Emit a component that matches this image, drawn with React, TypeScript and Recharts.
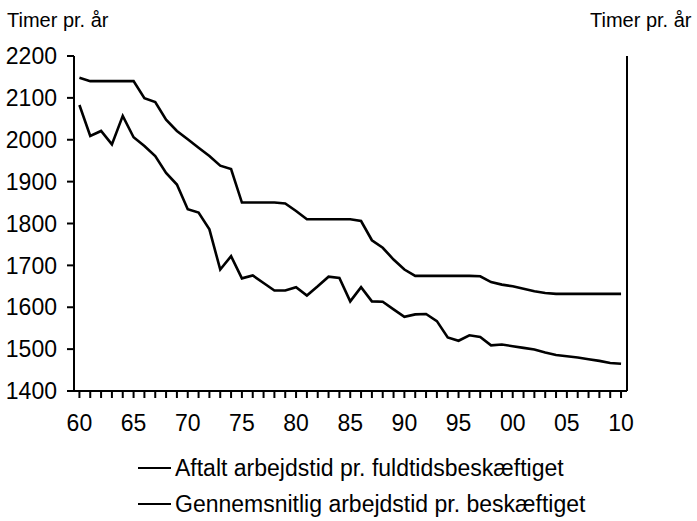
import React from 'react';
import { LineChart, Line, XAxis, YAxis } from 'recharts';

const years = [
  1960, 1961, 1962, 1963, 1964, 1965, 1966, 1967, 1968, 1969,
  1970, 1971, 1972, 1973, 1974, 1975, 1976, 1977, 1978, 1979,
  1980, 1981, 1982, 1983, 1984, 1985, 1986, 1987, 1988, 1989,
  1990, 1991, 1992, 1993, 1994, 1995, 1996, 1997, 1998, 1999,
  2000, 2001, 2002, 2003, 2004, 2005, 2006, 2007, 2008, 2009, 2010,
];

const aftalt = [
  2148, 2140, 2140, 2140, 2140, 2140, 2099, 2090, 2048, 2021,
  2001, 1981, 1961, 1938, 1930, 1850, 1850, 1850, 1850, 1848,
  1830, 1810, 1810, 1810, 1810, 1810, 1806, 1760, 1742, 1714,
  1690, 1675, 1675, 1675, 1675, 1675, 1675, 1674, 1660, 1654,
  1650, 1644, 1638, 1634, 1632, 1632, 1632, 1632, 1632, 1632, 1632,
];

const gennemsnit = [
  2083, 2009, 2021, 1989, 2057, 2006, 1985, 1961, 1921, 1893,
  1834, 1826, 1786, 1690, 1722, 1669, 1676, 1658, 1640, 1640,
  1648, 1628, 1650, 1673, 1670, 1614, 1648, 1614, 1613, 1595,
  1577, 1583, 1584, 1567, 1528, 1520, 1533, 1529, 1509, 1511,
  1507, 1503, 1499, 1492, 1486, 1483, 1480, 1476, 1472, 1467, 1465,
];

const yTicks = [1400, 1500, 1600, 1700, 1800, 1900, 2000, 2100, 2200];

const axisTitle = 'Timer pr. år';
const legendLabels = [
  'Aftalt arbejdstid pr. fuldtidsbeskæftiget',
  'Gennemsnitlig arbejdstid pr. beskæftiget',
];

const data = years.map((year, i) => ({
  year,
  aftalt: aftalt[i],
  gennemsnit: gennemsnit[i],
}));

const FONT = '"Liberation Sans", Arial, Helvetica, sans-serif';

const XTick = (props: any) => {
  const { x, y, payload } = props;
  const v = payload.value as number;
  if (v % 5 !== 0) return <g />;
  return (
    <text x={x} y={y} dy={31} textAnchor="middle" fontSize={23} fontFamily={FONT} fill="#000">
      {String(v % 100).padStart(2, '0')}
    </text>
  );
};

export default function App() {
  return (
    <div style={{ position: 'absolute', left: 0, top: 0, width: 697, height: 521, background: '#fff', fontFamily: FONT }}>
      <LineChart
        width={697}
        height={521}
        data={data}
        margin={{ top: 56, right: 0, bottom: 80, left: 0 }}
      >
        <XAxis
          dataKey="year"
          type="number"
          domain={[1959.5, 2010.55]}
          ticks={years}
          interval={0}
          tick={<XTick />}
          tickSize={7}
          tickMargin={2}
          height={50}
          axisLine={{ stroke: '#000', strokeWidth: 2 }}
          tickLine={{ stroke: '#000', strokeWidth: 2 }}
        />
        <YAxis
          yAxisId="left"
          orientation="left"
          width={74}
          domain={[1400, 2200]}
          ticks={yTicks}
          interval={0}
          tickSize={7}
          tickMargin={10}
          tick={{ fontSize: 23, fill: '#000', fontFamily: FONT }}
          axisLine={{ stroke: '#000', strokeWidth: 2 }}
          tickLine={{ stroke: '#000', strokeWidth: 2 }}
        />
        <YAxis
          yAxisId="right"
          orientation="right"
          width={70}
          domain={[1400, 2200]}
          ticks={yTicks}
          interval={0}
          tickSize={6}
          tickMargin={7}
          tick={{ fontSize: 23, fill: '#000', fontFamily: FONT }}
          axisLine={{ stroke: '#000', strokeWidth: 2 }}
          tickLine={{ stroke: '#000', strokeWidth: 2 }}
        />
        <Line
          yAxisId="left"
          type="linear"
          dataKey="aftalt"
          stroke="#000"
          strokeWidth={2.6}
          dot={false}
          isAnimationActive={false}
        />
        <Line
          yAxisId="left"
          type="linear"
          dataKey="gennemsnit"
          stroke="#000"
          strokeWidth={2.6}
          dot={false}
          isAnimationActive={false}
        />
      </LineChart>

      <div style={{ position: 'absolute', left: 7, top: 8, fontSize: 20, lineHeight: '24px', color: '#000', whiteSpace: 'nowrap' }}>
        {axisTitle}
      </div>
      <div style={{ position: 'absolute', left: 590, top: 8, fontSize: 20, lineHeight: '24px', color: '#000', whiteSpace: 'nowrap' }}>
        {axisTitle}
      </div>

      {legendLabels.map((label, i) => (
        <div
          key={label}
          style={{
            position: 'absolute',
            left: 138,
            top: 453 + i * 36,
            height: 30,
            display: 'flex',
            alignItems: 'center',
            whiteSpace: 'nowrap',
          }}
        >
          <div style={{ width: 33, height: 2, background: '#000', marginRight: 4 }} />
          <span style={{ fontSize: 23, color: '#000' }}>{label}</span>
        </div>
      ))}
    </div>
  );
}
